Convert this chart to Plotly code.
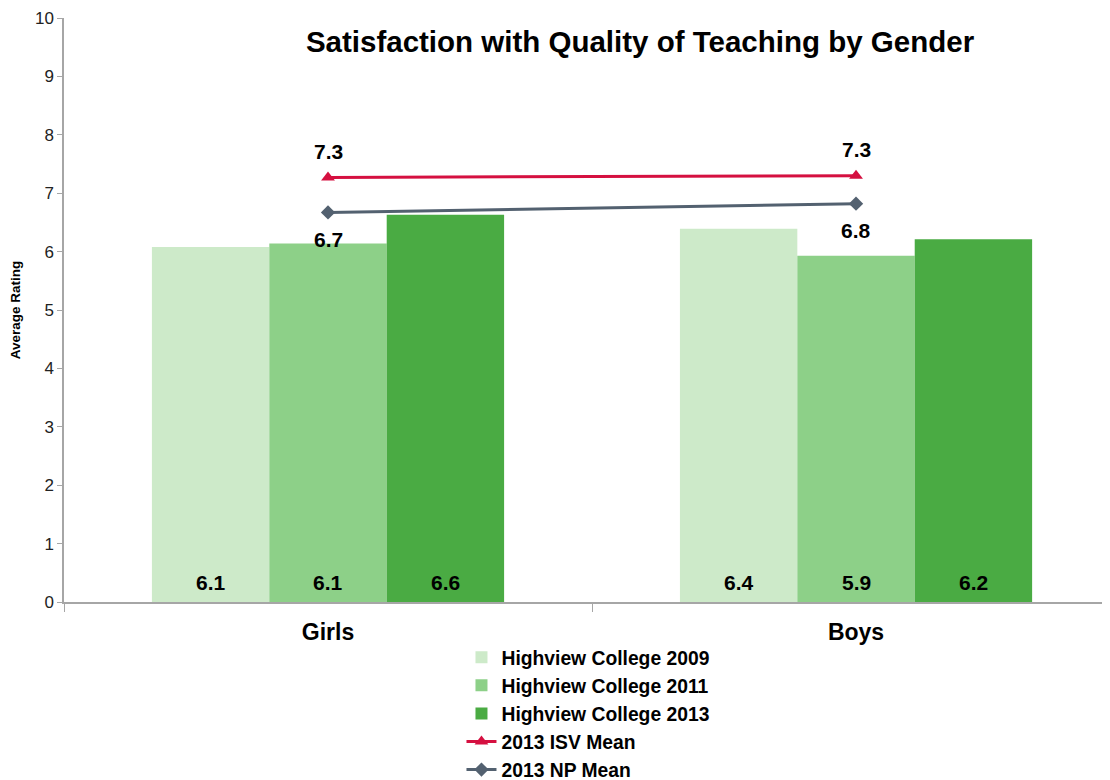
import plotly.graph_objects as go

categories = ["Girls", "Boys"]
bar_names = ["Highview College 2009", "Highview College 2011", "Highview College 2013"]
bar_values = [
    [6.08, 6.39],
    [6.14, 5.93],
    [6.63, 6.21],
]
bar_colors = ["#cdeac9", "#8dd088", "#4aab43"]
isv_mean = [7.27, 7.30]
np_mean = [6.67, 6.82]

BARGAP = 0.333
FONT = "Liberation Sans, Arial, sans-serif"
W, H = 1102, 772  # page body has an 8px margin

fig = go.Figure()
for name, vals, col in zip(bar_names, bar_values, bar_colors):
    fig.add_trace(go.Bar(x=categories, y=vals, name=name, marker=dict(color=col, line=dict(width=0))))

fig.add_trace(go.Scatter(x=categories, y=isv_mean, name="2013 ISV Mean", mode="lines+markers",
                         line=dict(color="#d51040", width=3),
                         marker=dict(symbol="triangle-up", size=12, color="#d51040")))
fig.add_trace(go.Scatter(x=categories, y=np_mean, name="2013 NP Mean", mode="lines+markers",
                         line=dict(color="#536170", width=3),
                         marker=dict(symbol="diamond", size=11, color="#536170")))

LABEL_FONT = dict(family=FONT, size=21, color="black", weight="bold")
annotations = []
w = (1 - BARGAP) / len(bar_names)
for j, vals in enumerate(bar_values):
    for i, v in enumerate(vals):
        annotations.append(dict(x=i + (j - 1) * w, y=0, xref="x", yref="y", text=f"{v:.1f}",
                                showarrow=False, yanchor="middle", yshift=20, font=LABEL_FONT))
for i, v in enumerate(isv_mean):
    annotations.append(dict(x=i, y=v, xref="x", yref="y", text=f"{v:.1f}", showarrow=False,
                            yanchor="middle", yshift=26, font=LABEL_FONT))
for i, v in enumerate(np_mean):
    annotations.append(dict(x=i, y=v, xref="x", yref="y", text=f"{v:.1f}", showarrow=False,
                            yanchor="middle", yshift=-27, font=LABEL_FONT))

fig.update_layout(
    width=W, height=H,
    margin=dict(l=56, r=0, t=10, b=178, autoexpand=False),
    paper_bgcolor="white", plot_bgcolor="white",
    barmode="group", bargap=BARGAP, bargroupgap=0,
    font=dict(family=FONT, color="black"),
    title=dict(text="<b>Satisfaction with Quality of Teaching by Gender</b>",
               x=632 / W, xanchor="center", y=1 - 34 / H, yanchor="middle",
               font=dict(family=FONT, size=29.5, color="black")),
    showlegend=True,
    legend=dict(x=0.380, xanchor="left", y=-0.062, yanchor="top", orientation="v",
                font=dict(family=FONT, size=19.3, color="black", weight="bold"),
                tracegroupgap=0, itemwidth=30, bgcolor="rgba(0,0,0,0)"),
    annotations=annotations,
)
fig.update_xaxes(range=[-0.5, 1.481], showline=True, linecolor="#a6a6a6", linewidth=1.5,
                 ticks="outside", tickson="boundaries", ticklen=8, tickcolor="#a6a6a6",
                 showgrid=False, zeroline=False, automargin=False, ticklabelstandoff=9,
                 tickfont=dict(family=FONT, size=23, color="black", weight="bold"))
fig.update_yaxes(range=[0, 10], dtick=1, showline=True, linecolor="#a6a6a6", linewidth=1.5,
                 ticks="outside", ticklen=5, tickcolor="#a6a6a6", showgrid=False, zeroline=False,
                 automargin=False,
                 tickfont=dict(family=FONT, size=17, color="#222222"),
                 title=dict(text="<b>Average Rating</b>", standoff=18,
                            font=dict(family=FONT, size=13.5, color="black")))

fig.write_html("out.html")
